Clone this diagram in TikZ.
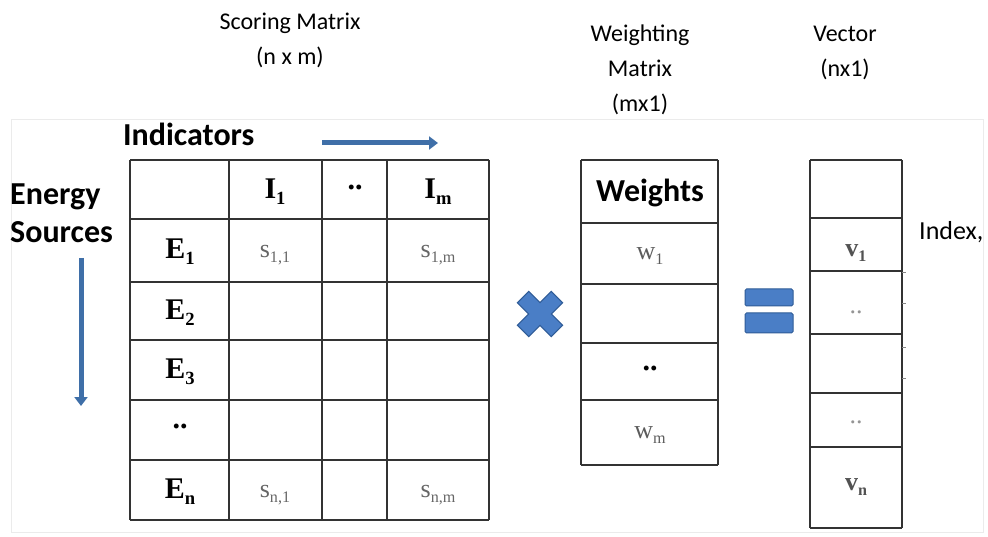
\documentclass[tikz,border=0pt]{standalone}
\usepackage{fontspec}
\setmainfont{Liberation Serif}
\newfontfamily\calibri{Carlito}
\usetikzlibrary{arrows.meta}
\definecolor{bluearrow}{HTML}{3F6FA8}
\definecolor{bluefill}{HTML}{4A7EC6}
\definecolor{blueedge}{HTML}{2F5C97}
\definecolor{gridc}{HTML}{333333}
\definecolor{greyt}{HTML}{666666}
\newcommand\sbs[1]{\raisebox{-0.45ex}{\scalebox{0.62}{#1}}}
\tikzset{
  x=1pt, y=-1pt,
  grid/.style={draw=gridc, line width=2pt},
  head/.style={font=\calibri\fontsize{24}{35}\selectfont, align=center, inner sep=0pt},
  side/.style={font=\calibri\bfseries\fontsize{32}{38}\selectfont, align=left, inner sep=0pt},
  bold/.style={font=\bfseries\fontsize{30}{32}\selectfont, inner sep=0pt},
  entry/.style={font=\fontsize{26}{28}\selectfont, text=greyt, inner sep=0pt},
  bluearr/.style={draw=bluearrow, line width=5pt, -{Triangle[length=9pt,width=13pt]}},
}
\begin{document}
\begin{tikzpicture}
\useasboundingbox (0,0) rectangle (988,537);
% faint frame of the pasted picture
\draw[black!8, line width=0.8pt] (11,119) rectangle (983,532);
% headers
\node[head] (hscore) at (290,40) {Scoring Matrix\\(n x m)};
\node[head] (hweight) at (640,70) {Weighting\\Matrix\\(mx1)};
\node[head] (hvec) at (845,53) {Vector\\(nx1)};
% side labels
\node[side, anchor=west] (indic) at (123,134) {Indicators};
\node[side, anchor=west] (energy) at (10,213) {Energy\\Sources};
\coordinate (ha1) at (322,143); \coordinate (ha2) at (438,143);
\draw[bluearr] (ha1) -- (ha2);
\coordinate (va1) at (81,258); \coordinate (va2) at (81,406);
\draw[bluearr] (va1) -- (va2);
% scoring matrix grid
\foreach \y in {160,219,282,340,400,460,520} \draw[grid] (130,\y) -- (489,\y);
\foreach \x in {130,229,322,387,489} \draw[grid] (\x,160) -- (\x,520);
% header row
\node[bold] (i1) at (275,192) {I\sbs{1}};
\node[bold] (idots) at (355,187) {..};
\node[bold] (im) at (438,192) {I\sbs{m}};
% row labels
\node[bold] (e1) at (180,252) {E\sbs{1}};
\node[bold] (e2) at (180,313) {E\sbs{2}};
\node[bold] (e3) at (180,372) {E\sbs{3}};
\node[bold] (edots) at (180,426) {..};
\node[bold] (en) at (180,492) {E\sbs{n}};
% entries
\node[entry] (s11) at (275,255) {s\sbs{1,1}};
\node[entry] (s1m) at (438,255) {s\sbs{1,m}};
\node[entry] (sn1) at (275,495) {s\sbs{n,1}};
\node[entry] (snm) at (438,495) {s\sbs{n,m}};
% multiplication sign
\begin{scope}[shift={(540,314)}, rotate=45]
\fill[bluefill, draw=blueedge, line width=1pt]
  (-8,-24) -- (8,-24) -- (8,-8) -- (24,-8) -- (24,8) -- (8,8) -- (8,24)
  -- (-8,24) -- (-8,8) -- (-24,8) -- (-24,-8) -- (-8,-8) -- cycle;
\end{scope}
\node (times) at (540,314) {};
% weighting matrix
\foreach \y in {160,223,284,343,400,465} \draw[grid] (581,\y) -- (718,\y);
\foreach \x in {581,718} \draw[grid] (\x,160) -- (\x,465);
\node[font=\calibri\bfseries\fontsize{32}{34}\selectfont, inner sep=0pt] (weights) at (650,193) {Weights};
\node[entry, text=gridc!80] (w1) at (650,256) {w\sbs{1}};
\node[bold] (wdots) at (650,368) {..};
\node[entry, text=gridc!80] (wm) at (650,435) {w\sbs{m}};
% equals sign
\fill[bluefill, draw=blueedge, line width=1pt, rounded corners=1.5pt] (745,289) rectangle (793,306);
\fill[bluefill, draw=blueedge, line width=1pt, rounded corners=1.5pt] (745,313) rectangle (793,333);
\node (equals) at (769,311) {};
% vector
\foreach \y in {160,218,271,334,393,447,528} \draw[grid] (810,\y) -- (902,\y);
\foreach \x in {810,902} \draw[grid] (\x,160) -- (\x,528);
\node[entry, text=gridc!85, font=\bfseries\fontsize{26}{28}\selectfont] (v1) at (856,253) {v\sbs{1}};
\node[entry, text=greyt!70] (vdots1) at (856,312) {..};
\node[entry, text=greyt!70] (vdots2) at (856,422) {..};
\node[entry, text=gridc!85, font=\bfseries\fontsize{26}{28}\selectfont] (vn) at (856,487) {v\sbs{n}};
\foreach \y in {273,304,347,378} \draw[gridc!60, line width=1pt] (902,\y) -- (906,\y);
\node[font=\calibri\fontsize{26}{28}\selectfont, anchor=west, inner sep=0pt] (index) at (919,232) {Index,};
\end{tikzpicture}
\end{document}
